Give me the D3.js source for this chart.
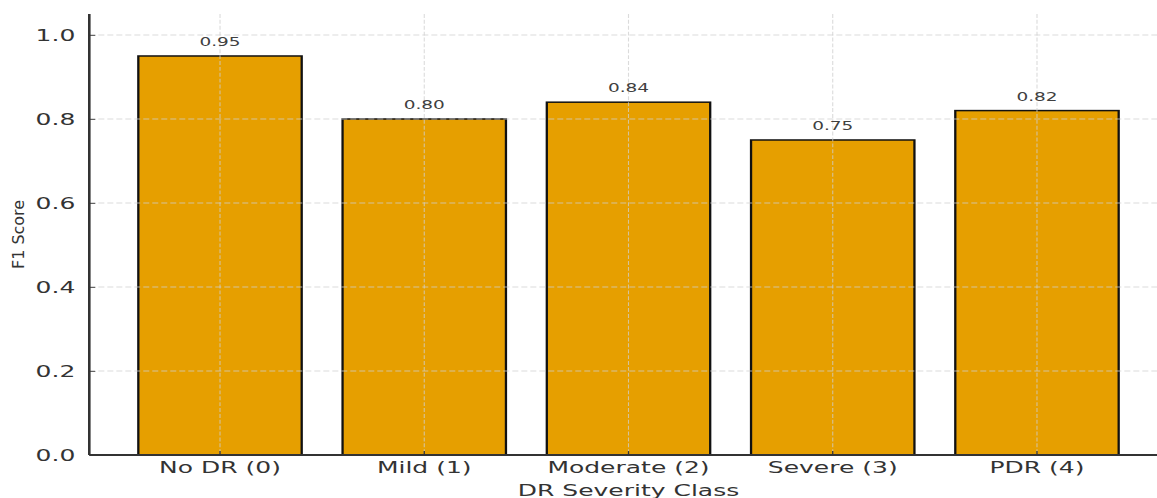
<!DOCTYPE html>
<html>
<head>
<meta charset="utf-8">
<script src="https://cdn.jsdelivr.net/npm/d3@7"></script>
<style>
  html, body { margin: 0; padding: 0; background: #ffffff; }
  svg { display: block; }
</style>
</head>
<body>
<div id="chart"></div>
<script>
// F1 score per diabetic-retinopathy severity class
const categories = ["No DR (0)", "Mild (1)", "Moderate (2)", "Severe (3)", "PDR (4)"];
const f1Scores = [0.95, 0.80, 0.84, 0.75, 0.82];
const yTicks = [0.0, 0.2, 0.4, 0.6, 0.8, 1.0];
const xTitle = "DR Severity Class";
const yTitle = "F1 Score";

// The figure is laid out in a taller drawing space and squeezed to the window height
const W = 1157, H = 498;
const VH = 762; // drawing-space height
const svg = d3.select("#chart").append("svg")
  .attr("width", W).attr("height", H)
  .attr("viewBox", `0 0 ${W} ${VH}`)
  .attr("preserveAspectRatio", "none")
  .style("font-family", "'DejaVu Sans', sans-serif");

const plotLeft = 89.3, plotRight = 1167.7, plotTop = 21.4, plotBottom = 696.2;

const x = d3.scaleBand()
  .domain(categories)
  .range([plotLeft, plotRight])
  .paddingInner(0.2)
  .paddingOuter(0.24);

const y = d3.scaleLinear()
  .domain([0, 1.05])
  .range([plotBottom, plotTop]);

const gridColor = "#cfcfcf";

// bars
svg.append("g")
  .selectAll("rect")
  .data(categories)
  .join("rect")
  .attr("x", d => x(d))
  .attr("y", (d, i) => y(f1Scores[i]))
  .attr("width", x.bandwidth())
  .attr("height", (d, i) => y(0) - y(f1Scores[i]))
  .attr("fill", "#E69F00")
  .attr("stroke", "#111111")
  .attr("stroke-width", 2.3);

// dashed grid drawn over the bars
const grid = svg.append("g")
  .attr("stroke", gridColor)
  .attr("stroke-opacity", 0.75)
  .attr("stroke-dasharray", "6,3");

grid.selectAll("line.h")
  .data(yTicks.filter(t => t > 0))
  .join("line")
  .attr("class", "h")
  .attr("x1", plotLeft).attr("x2", plotRight)
  .attr("y1", d => y(d)).attr("y2", d => y(d))
  .attr("stroke-width", 1.7);

grid.selectAll("line.v")
  .data(categories)
  .join("line")
  .attr("class", "v")
  .attr("x1", d => x(d) + x.bandwidth() / 2)
  .attr("x2", d => x(d) + x.bandwidth() / 2)
  .attr("y1", plotTop).attr("y2", plotBottom)
  .attr("stroke-width", 1.1);

// y axis
const yAxis = svg.append("g")
  .attr("transform", `translate(${plotLeft},0)`)
  .call(d3.axisLeft(y)
    .tickValues(yTicks)
    .tickFormat(d3.format(".1f"))
    .tickSizeInner(-6)
    .tickSizeOuter(0)
    .tickPadding(14));
yAxis.select(".domain")
  .attr("stroke", "#333333")
  .attr("stroke-width", 2.6)
  .attr("d", `M0,${plotTop}V${plotBottom}`);
yAxis.selectAll(".tick line").attr("stroke", "#333333").attr("stroke-width", 1.3);
yAxis.selectAll(".tick text")
  .attr("fill", "#333333")
  .attr("font-size", 25)
  .attr("font-family", "'DejaVu Sans', sans-serif")
  .attr("dy", "0.36em");

// x axis
const xAxis = svg.append("g")
  .attr("transform", `translate(0,${plotBottom})`)
  .call(d3.axisBottom(x)
    .tickSizeInner(-6)
    .tickSizeOuter(0)
    .tickPadding(10));
xAxis.select(".domain")
  .attr("stroke", "#333333")
  .attr("stroke-width", 2.8)
  .attr("d", `M${plotLeft},0H${plotRight}`);
xAxis.selectAll(".tick line").attr("stroke", "#333333").attr("stroke-width", 1.3);
xAxis.selectAll(".tick text")
  .attr("fill", "#333333")
  .attr("font-size", 25)
  .attr("font-family", "'DejaVu Sans', sans-serif")
  .attr("y", 28)
  .attr("dy", 0);

// value labels above each bar
svg.append("g")
  .selectAll("text")
  .data(categories)
  .join("text")
  .attr("x", d => x(d) + x.bandwidth() / 2)
  .attr("y", (d, i) => y(f1Scores[i]) - 15)
  .attr("text-anchor", "middle")
  .attr("font-size", 18.5)
  .attr("fill", "#404040")
  .text((d, i) => d3.format(".2f")(f1Scores[i]));

// axis titles
svg.append("text")
  .attr("x", (plotLeft + plotRight) / 2)
  .attr("y", 759)
  .attr("text-anchor", "middle")
  .attr("font-size", 25)
  .attr("fill", "#333333")
  .text(xTitle);

svg.append("text")
  .attr("transform", `translate(24,${(plotTop + plotBottom) / 2}) rotate(-90) scale(1.48,1)`)
  .attr("text-anchor", "middle")
  .attr("font-size", 16.5)
  .attr("fill", "#333333")
  .text(yTitle);
</script>
</body>
</html>
